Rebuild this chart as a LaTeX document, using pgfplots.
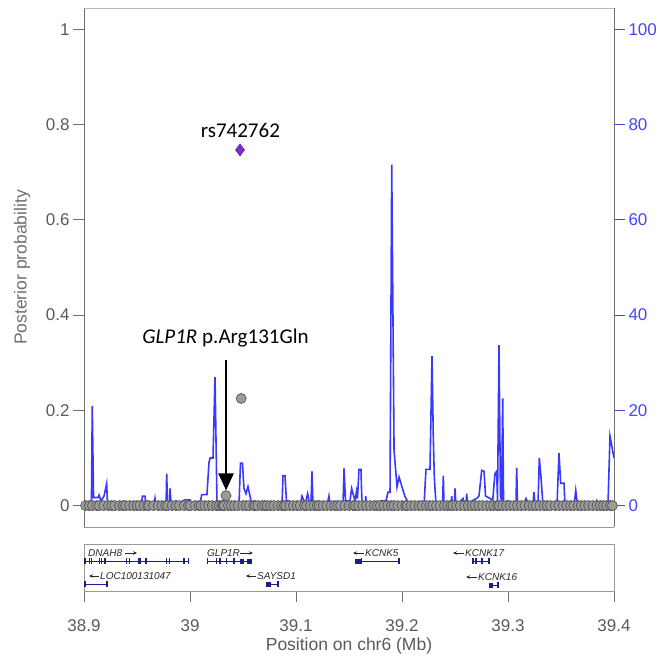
\documentclass[border=0pt]{standalone}
\usepackage{fontspec}
\setmainfont{Liberation Sans}
\newfontfamily\calibri{Carlito}
\usepackage{pgfplots}
\pgfplotsset{compat=1.18}
\usetikzlibrary{arrows.meta}

\definecolor{tickgrey}{HTML}{5A5A5A}
\definecolor{framegrey}{HTML}{707070}
\definecolor{recblue}{HTML}{3838FF}
\definecolor{ticksblue}{HTML}{4646F5}
\definecolor{snpfill}{HTML}{9A9A9A}
\definecolor{snpedge}{HTML}{555555}
\definecolor{leadpurple}{HTML}{7B2FC2}
\definecolor{genenavy}{HTML}{1C1C8E}
\definecolor{genetext}{HTML}{2A2A2A}

\begin{document}
\begin{tikzpicture}
\pgfplotsset{
  panel/.style={scale only axis, width=530pt, xmin=38.9, xmax=39.4,
    /pgf/number format/assume math mode=true},
}
\tikzset{
  genelabel/.style={font=\fontsize{10}{12}\selectfont\itshape, text=genetext,
    inner sep=0pt, anchor=west},
  genearrow/.style={genetext, line width=0.7pt, -{Stealth[length=4pt,width=3.5pt]}},
}

% Recombination rate (cM/Mb), right-hand axis
\begin{axis}[panel, height=519pt, at={(84pt,-8pt)}, anchor=north west,
  ymin=-4.5, ymax=104.5, axis x line=none, axis y line*=right,
  y axis line style={framegrey, line width=0.9pt, -},
  ytick={0,20,40,60,80,100}, tick align=outside, major tick length=11pt,
  ytick style={ticksblue, line width=0.8pt},
  yticklabel style={ticksblue, font=\fontsize{17}{20}\selectfont},
  clip mode=individual]
\addplot[recblue, line width=1.6pt] coordinates {
(38.9000,0.4) (38.9057,0.4) (38.9070,0.4) (38.9078,20.9) (38.9090,1.7) (38.9132,1.7)
(38.9142,2.2) (38.9160,1.0) (38.9189,2.0) (38.9214,4.6) (38.9222,0)
(38.9538,0) (38.9552,2.0) (38.9575,2.0) (38.9585,0) (38.9660,0) (38.9670,1.5)
(38.9679,0) (38.9774,0) (38.9780,6.7) (38.9788,0.5) (38.9807,0.5) (38.9811,3.6)
(38.9821,0.5) (38.9868,1.0) (38.9887,0.5) (38.9953,1.2) (39.0000,1.2) (39.0009,0)
(39.0094,0) (39.0110,2.3) (39.0160,2.3) (39.0179,9.0) (39.0189,10.0) (39.0217,10.0)
(39.0236,27.0) (39.0255,0) (39.0462,0) (39.0476,8.9) (39.0495,8.9) (39.0509,3.6)
(39.0528,2.5) (39.0547,4.0) (39.0566,2.0) (39.0585,0) (39.0868,0) (39.0877,6.3)
(39.0896,6.3) (39.0910,1.0) (39.0934,1.0) (39.0943,0) (39.1038,0) (39.1057,2.0)
(39.1075,1.0) (39.1094,1.0) (39.1110,2.5) (39.1123,1.0) (39.1142,1.0) (39.1151,7.2)
(39.1160,0) (39.1292,0) (39.1311,2.0) (39.1321,0) (39.1443,0) (39.1453,7.8)
(39.1467,1.0) (39.1509,1.0) (39.1525,3.6) (39.1538,2.5) (39.1557,1.0) (39.1571,3.0)
(39.1580,1.5) (39.1594,7.6) (39.1613,7.6) (39.1623,0) (39.1651,0) (39.1658,2.0)
(39.1665,0) (39.1792,0) (39.1808,1.0) (39.1849,1.0) (39.1868,2.8) (39.1887,2.8)
(39.1903,71.6) (39.1925,11.6) (39.1953,3.9) (39.1972,6.0) (39.2000,3.9) (39.2028,1.9)
(39.2075,0) (39.2208,0) (39.2226,7.6) (39.2264,7.6) (39.2283,31.4) (39.2295,14.7)
(39.2305,6.0) (39.2321,0) (39.2382,0) (39.2390,6.3) (39.2396,0) (39.2462,0)
(39.2469,2.0) (39.2476,0) (39.2495,0) (39.2500,3.6) (39.2508,0) (39.2575,1.5)
(39.2585,0) (39.2604,0) (39.2610,2.5) (39.2618,0.5) (39.2705,1.5) (39.2726,2.0)
(39.2752,7.4) (39.2774,7.2) (39.2788,2.0) (39.2856,1.2) (39.2877,6.7) (39.2893,7.2)
(39.2901,1.0) (39.2915,33.7) (39.2929,2.0) (39.2939,1.0) (39.2950,22.5) (39.2958,0.5)
(39.3000,1.0) (39.3019,0) (39.3075,0) (39.3082,7.9) (39.3090,0) (39.3151,0.5)
(39.3170,1.5) (39.3189,0.5) (39.3236,0.5) (39.3245,2.8) (39.3255,0) (39.3283,0)
(39.3295,10.0) (39.3311,6.0) (39.3330,0) (39.3462,0) (39.3481,11.0) (39.3497,4.7)
(39.3528,4.7) (39.3538,0) (39.3623,0) (39.3639,3.2) (39.3656,0) (39.3821,0)
(39.3837,1.0) (39.3849,0) (39.3943,0) (39.3962,14.6) (39.4000,10.0)
};
\end{axis}

% Posterior probability of each variant, left-hand axis
\begin{axis}[panel, height=519pt, at={(84pt,-8pt)}, anchor=north west,
  ymin=-0.045, ymax=1.045, axis x line=none, axis y line*=left,
  y axis line style={framegrey, line width=0.9pt, -},
  ytick={0,0.2,0.4,0.6,0.8,1}, yticklabels={0,0.2,0.4,0.6,0.8,1},
  tick align=outside, major tick length=11pt,
  ytick style={framegrey, line width=0.8pt},
  yticklabel style={tickgrey, font=\fontsize{17}{20}\selectfont},
  ylabel={Posterior probability},
  ylabel style={at={(axis description cs:-0.117,0.5)}, anchor=center,
    text=framegrey, font=\fontsize{17.5}{20}\selectfont},
  clip mode=individual]
\draw[gray!55, line width=1pt] (rel axis cs:0,1) -- (rel axis cs:1,1);
\draw[gray!80, line width=1pt] (rel axis cs:0,0) -- (rel axis cs:1,0);
\addplot[only marks, mark=*, mark size=5pt,
  mark options={fill=snpfill, draw=snpedge, line width=0.7pt}] coordinates {
(38.9015,0) (38.9050,0) (38.9080,0) (38.9120,0) (38.9145,0) (38.9185,0) (38.9230,0)
(38.9262,0) (38.9290,0) (38.9335,0) (38.9370,0) (38.9392,0) (38.9430,0) (38.9468,0)
(38.9500,0) (38.9528,0) (38.9566,0) (38.9600,0) (38.9612,0) (38.9655,0) (38.9700,0)
(38.9735,0) (38.9770,0) (38.9790,0) (38.9830,0) (38.9868,0) (38.9900,0) (38.9945,0)
(38.9985,0) (39.0005,0) (39.0048,0) (39.0085,0) (39.0105,0) (39.0140,0) (39.0175,0)
(39.0210,0) (39.0250,0) (39.0275,0) (39.0300,0) (39.0312,0) (39.0325,0) (39.0362,0)
(39.0390,0) (39.0420,0) (39.0455,0) (39.0498,0) (39.0530,0) (39.0560,0) (39.0600,0)
(39.0615,0) (39.0640,0) (39.0680,0) (39.0705,0) (39.0728,0) (39.0760,0) (39.0790,0)
(39.0830,0) (39.0865,0) (39.0890,0) (39.0905,0) (39.0940,0) (39.0975,0) (39.1010,0)
(39.1040,0) (39.1080,0) (39.1100,0) (39.1135,0) (39.1170,0) (39.1200,0) (39.1220,0)
(39.1255,0) (39.1290,0) (39.1330,0) (39.1365,0) (39.1392,0) (39.1420,0) (39.1460,0)
(39.1500,0) (39.1540,0) (39.1560,0) (39.1590,0) (39.1630,0) (39.1665,0) (39.1700,0)
(39.1740,0) (39.1768,0) (39.1795,0) (39.1830,0) (39.1865,0) (39.1900,0) (39.1925,0)
(39.1960,0) (39.2000,0) (39.2035,0) (39.2050,0) (39.2085,0) (39.2120,0) (39.2160,0)
(39.2190,0) (39.2230,0) (39.2262,0) (39.2290,0) (39.2325,0) (39.2360,0) (39.2400,0)
(39.2430,0) (39.2460,0) (39.2480,0) (39.2515,0) (39.2550,0) (39.2590,0) (39.2625,0)
(39.2660,0) (39.2690,0) (39.2725,0) (39.2760,0) (39.2800,0) (39.2835,0) (39.2865,0)
(39.2900,0) (39.2918,0) (39.2950,0) (39.2985,0) (39.3020,0) (39.3055,0) (39.3090,0)
(39.3125,0) (39.3160,0) (39.3200,0) (39.3235,0) (39.3265,0) (39.3300,0) (39.3340,0)
(39.3370,0) (39.3400,0) (39.3445,0) (39.3480,0) (39.3520,0) (39.3555,0) (39.3590,0)
(39.3620,0) (39.3660,0) (39.3690,0) (39.3725,0) (39.3760,0) (39.3800,0) (39.3840,0)
(39.3870,0) (39.3900,0) (39.3930,0) (39.3965,0) (39.3985,0)
(39.0340,0.021) (39.0483,0.225)
};
\addplot[only marks, mark=diamond*, mark size=6pt,
  mark options={fill=leadpurple, draw=leadpurple!70!black, line width=0.5pt}]
  coordinates {(39.0472,0.747)};
\node[font=\calibri\fontsize{21}{24}\selectfont] at (axis cs:39.0475,0.787) {rs742762};
\node[font=\calibri\fontsize{21}{24}\selectfont] at (axis cs:39.0335,0.352)
  {\textit{GLP1R} p.Arg131Gln};
\draw[black, line width=2.6pt, -{Triangle[width=15pt,length=17pt]}]
  (axis cs:39.0340,0.305) -- (axis cs:39.0340,0.032);
\end{axis}

% Gene track
\begin{axis}[panel, height=47pt, at={(84pt,-544pt)}, anchor=north west,
  ymin=0, ymax=47, axis line style={gray!80, line width=1pt},
  ytick=\empty, xtick={38.9,39,39.1,39.2,39.3,39.4},
  xticklabels={38.9,39,39.1,39.2,39.3,39.4}, xtick pos=lower,
  tick align=outside, major tick length=11pt,
  xtick style={framegrey, line width=0.8pt},
  xticklabel style={tickgrey, font=\fontsize{17}{20}\selectfont, yshift=-14pt},
  xlabel={Position on chr6 (Mb)},
  xlabel style={at={(axis description cs:0.5,-1.17)}, anchor=center,
    text=tickgrey, font=\fontsize{17.5}{20}\selectfont},
  clip=false]
% transcript spans
\addplot[genenavy, line width=0.9pt] coordinates {(38.9009,30) (38.9991,30)};
\addplot[genenavy, line width=0.9pt] coordinates {(38.9009,7) (38.9217,7)};
\addplot[genenavy, line width=0.9pt] coordinates {(39.0167,30) (39.0566,30)};
\addplot[genenavy, line width=0.9pt] coordinates {(39.0717,7) (39.0830,7)};
\addplot[genenavy, line width=0.9pt] coordinates {(39.1566,30) (39.1972,30)};
\addplot[genenavy, line width=0.9pt] coordinates {(39.2670,30) (39.2821,30)};
\addplot[genenavy, line width=0.9pt] coordinates {(39.2821,6) (39.2906,6)};
% exons
\addplot[only marks, mark=|, mark size=3pt, genenavy, line width=1.3pt] coordinates {
(38.9009,30) (38.9050,30) (38.9073,30) (38.9145,30) (38.9167,30) (38.9198,30)
(38.9403,30) (38.9427,30) (38.9512,30) (38.9528,30) (38.9585,30) (38.9780,30)
(38.9805,30) (38.9943,30) (38.9984,30)
(38.9009,7) (38.9217,7)
(39.0167,30) (39.0252,30) (39.0283,30) (39.0346,30) (39.0415,30)
(39.0830,7)
(39.1620,30) (39.1972,30)
(39.2670,30) (39.2698,30) (39.2755,30) (39.2821,30)
(39.2906,6)
};
\addplot[only marks, mark=square*, mark size=1.8pt, genenavy,
  mark options={line width=0.3pt}] coordinates {
(39.0486,30) (39.0557,30) (39.0736,7) (39.1575,30) (39.1598,30) (39.2838,6)
};
% gene names with strand arrows
\node[genelabel] at (axis cs:38.9038,38) {DNAH8};
\draw[genearrow] (axis cs:38.9387,38) -- (axis cs:38.9500,38);
\node[genelabel] at (axis cs:39.0160,38) {GLP1R};
\draw[genearrow] (axis cs:39.0472,38) -- (axis cs:39.0594,38);
\node[genelabel] at (axis cs:38.9151,15) {LOC100131047};
\draw[genearrow] (axis cs:38.9142,15) -- (axis cs:38.9047,15);
\node[genelabel] at (axis cs:39.0632,15) {SAYSD1};
\draw[genearrow] (axis cs:39.0623,15) -- (axis cs:39.0528,15);
\node[genelabel] at (axis cs:39.1651,38) {KCNK5};
\draw[genearrow] (axis cs:39.1642,38) -- (axis cs:39.1538,38);
\node[genelabel] at (axis cs:39.2594,38) {KCNK17};
\draw[genearrow] (axis cs:39.2585,38) -- (axis cs:39.2481,38);
\node[genelabel] at (axis cs:39.2717,14) {KCNK16};
\draw[genearrow] (axis cs:39.2708,14) -- (axis cs:39.2604,14);
\end{axis}

\pgfresetboundingbox
\useasboundingbox (0pt,0pt) rectangle (668pt,-656pt);
\end{tikzpicture}
\end{document}
